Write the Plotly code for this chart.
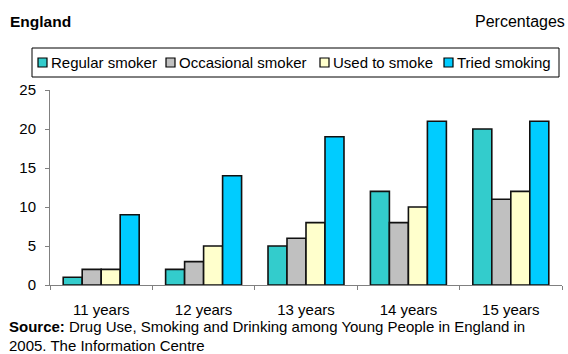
import plotly.graph_objects as go

categories = ["11 years", "12 years", "13 years", "14 years", "15 years"]
regular = [1, 2, 5, 12, 20]
occasional = [2, 3, 6, 8, 11]
used = [2, 5, 8, 10, 12]
tried = [9, 14, 19, 21, 21]

series_names = ["Regular smoker", "Occasional smoker", "Used to smoke", "Tried smoking"]
series_values = [regular, occasional, used, tried]
series_colors = ["#33CCCC", "#C0C0C0", "#FFFFCC", "#00CCFF"]

FONT = "Liberation Sans, Arial, sans-serif"
FS = 15

# plot-area geometry in pixels (for converting decoration positions)
L, R, T, B = 50, 562, 90, 285
W, H = R - L, B - T


def px(x):
    return (x - L) / W


def py(y):
    return (B - y) / H


fig = go.Figure()
for name, vals, col in zip(series_names, series_values, series_colors):
    fig.add_trace(go.Bar(
        x=categories, y=vals, name=name,
        marker=dict(color=col, line=dict(color="#111111", width=1.6)),
    ))

shapes = []
annotations = []

# legend box
shapes.append(dict(type="rect", xref="paper", yref="paper",
                   x0=px(32), x1=px(559), y0=py(77), y1=py(48),
                   line=dict(color="#000000", width=1), fillcolor="white", layer="above"))
legend_square_x = [38, 166, 320, 444]
for sx, name, col in zip(legend_square_x, series_names, series_colors):
    shapes.append(dict(type="rect", xref="paper", yref="paper",
                       x0=px(sx), x1=px(sx + 9), y0=py(67), y1=py(58),
                       line=dict(color="#000000", width=1.2), fillcolor=col, layer="above"))
    annotations.append(dict(text=name, xref="paper", yref="paper", x=px(sx + 12), y=py(62.5),
                            xanchor="left", yanchor="middle", showarrow=False,
                            font=dict(size=FS), borderpad=0))

annotations += [
    dict(text="<b>England</b>", xref="paper", yref="paper", x=px(9), y=py(22),
         xanchor="left", yanchor="middle", showarrow=False, font=dict(size=15.5), borderpad=0),
    dict(text="Percentages", xref="paper", yref="paper", x=px(566), y=py(22),
         xanchor="right", yanchor="middle", showarrow=False, font=dict(size=16), borderpad=0),
    dict(text="<b>Source:</b> Drug Use, Smoking and Drinking among Young People in England in",
         xref="paper", yref="paper", x=px(8), y=py(326),
         xanchor="left", yanchor="middle", showarrow=False, font=dict(size=FS), borderpad=0),
    dict(text="2005. The Information Centre",
         xref="paper", yref="paper", x=px(8), y=py(345),
         xanchor="left", yanchor="middle", showarrow=False, font=dict(size=FS), borderpad=0),
]

fig.update_layout(
    width=568, height=354,
    margin=dict(l=L, r=568 - R, t=T, b=354 - B),
    paper_bgcolor="white", plot_bgcolor="white",
    barmode="group", bargap=0.258, bargroupgap=0,
    font=dict(family=FONT, size=FS, color="#000000"),
    showlegend=False,
    xaxis=dict(
        showline=True, linecolor="#808080", linewidth=1,
        ticks="outside", tickson="boundaries", ticklen=4, tickcolor="#808080",
        showgrid=False, tickfont=dict(size=FS), ticklabelstandoff=11,
    ),
    yaxis=dict(
        range=[0, 25], dtick=5, showline=True, linecolor="#808080", linewidth=1,
        ticks="outside", ticklen=4, tickcolor="#808080",
        showgrid=False, zeroline=False, tickfont=dict(size=FS), ticklabelstandoff=6,
    ),
    shapes=shapes,
    annotations=annotations,
)

fig.write_html("out.html")
